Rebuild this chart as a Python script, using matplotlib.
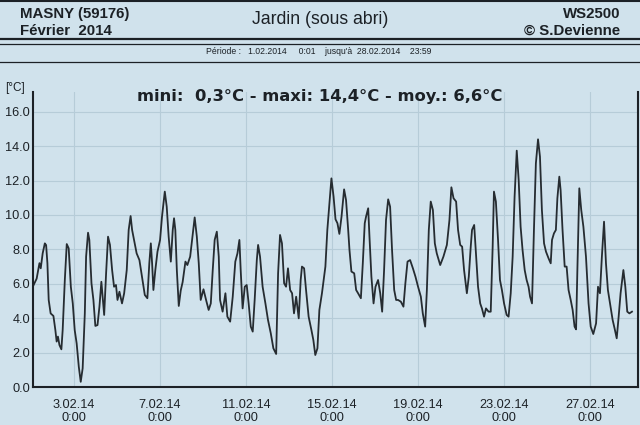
import matplotlib
matplotlib.use("Agg")
import matplotlib.pyplot as plt
from matplotlib.lines import Line2D

# ---- data ----
days = [1.08, 1.26, 1.39, 1.45, 1.54, 1.64, 1.70, 1.76, 1.82, 1.91, 2.04, 2.13, 2.19, 2.25, 2.32, 2.41,
        2.47, 2.57, 2.66, 2.75, 2.85, 2.94, 3.03, 3.12, 3.22, 3.31, 3.40, 3.50, 3.56, 3.65, 3.71,
        3.81, 3.90, 3.99, 4.09, 4.18, 4.27, 4.33, 4.40, 4.49, 4.58, 4.67, 4.77, 4.86, 4.95, 5.02,
        5.11, 5.23, 5.33, 5.45, 5.54, 5.63, 5.70, 5.79, 5.91, 6.04, 6.16, 6.29, 6.41, 6.50, 6.57,
        6.63, 6.69, 6.78, 6.88, 7.00, 7.09, 7.22, 7.31, 7.40, 7.50, 7.59, 7.65, 7.71, 7.78, 7.87,
        7.96, 8.05, 8.18, 8.27, 8.40, 8.49, 8.61, 8.71, 8.80, 8.89, 9.02, 9.14, 9.26, 9.36, 9.45,
        9.54, 9.64, 9.73, 9.79, 9.91, 10.04, 10.13, 10.26, 10.38, 10.50, 10.60, 10.69, 10.75, 10.84,
        10.94, 11.03, 11.12, 11.22, 11.31, 11.40, 11.50, 11.56, 11.65, 11.77, 11.90, 12.02, 12.15,
        12.27, 12.40, 12.49, 12.58, 12.67, 12.77, 12.86, 12.95, 13.05, 13.14, 13.23, 13.33, 13.45,
        13.54, 13.60, 13.70, 13.79, 13.91, 14.04, 14.13, 14.22, 14.32, 14.41, 14.53, 14.69, 14.78,
        14.88, 14.97, 15.07, 15.16, 15.25, 15.34, 15.44, 15.56, 15.65, 15.75, 15.81, 15.90, 16.03,
        16.12, 16.21, 16.34, 16.43, 16.52, 16.58, 16.68, 16.74, 16.83, 16.93, 17.02, 17.14, 17.24,
        17.33, 17.42, 17.51, 17.61, 17.70, 17.79, 17.89, 17.98, 18.07, 18.20, 18.32, 18.41, 18.51,
        18.63, 18.76, 18.88, 19.00, 19.13, 19.22, 19.33, 19.41, 19.50, 19.59, 19.69, 19.78, 19.87,
        20.03, 20.18, 20.34, 20.46, 20.55, 20.65, 20.77, 20.86, 20.96, 21.05, 21.14, 21.27, 21.36,
        21.45, 21.51, 21.61, 21.70, 21.79, 21.89, 21.97, 22.07, 22.16, 22.28, 22.38, 22.47, 22.53,
        22.62, 22.72, 22.81, 22.90, 23.00, 23.12, 23.21, 23.31, 23.40, 23.49, 23.59, 23.68, 23.77,
        23.86, 23.96, 24.05, 24.14, 24.21, 24.30, 24.39, 24.48, 24.58, 24.67, 24.76, 24.86, 24.95,
        25.07, 25.17, 25.23, 25.32, 25.41, 25.48, 25.57, 25.63, 25.72, 25.82, 25.91, 26.00, 26.10,
        26.19, 26.28, 26.35, 26.41, 26.50, 26.59, 26.69, 26.81, 26.93, 27.03, 27.15, 27.28, 27.37,
        27.46, 27.55, 27.65, 27.74, 27.83, 27.93, 28.05, 28.14, 28.24, 28.33, 28.42, 28.55, 28.64,
        28.73, 28.83, 28.95]
temps = [5.83, 6.3, 7.2, 6.9, 7.77, 8.35, 8.25, 7.2, 5.06, 4.28, 4.13, 3.31, 2.64, 2.93, 2.44, 2.19,
         3.31, 6.22, 8.31, 8.06, 5.83, 4.86, 3.31, 2.54, 1.18, 0.3, 1.09, 4.28, 7.58, 8.97, 8.55,
         6.03, 5.06, 3.55, 3.6, 4.67, 6.12, 5.25, 4.19, 6.61, 8.74, 8.26, 6.8, 5.83, 5.93, 5.06,
         5.54, 4.86, 5.45, 6.8, 9.13, 9.94, 9.13, 8.55, 7.77, 7.38, 6.41, 5.35, 5.16, 7.19, 8.35,
         7.19, 5.64, 6.8, 7.87, 8.55, 9.9, 11.36, 10.48, 8.74, 7.29, 9.13, 9.81, 9.13, 6.8, 4.71,
         5.6, 6.1, 7.29, 7.09, 7.58, 8.55, 9.86, 8.74, 7.19, 5.06, 5.68, 5.06, 4.48, 4.86, 6.8,
         8.55, 9.03, 7.58, 5.06, 4.38, 5.45, 4.09, 3.8, 5.25, 7.29, 7.77, 8.55, 6.8, 4.57,
         5.83, 5.93, 4.86, 3.51, 3.22, 5.06, 7.38, 8.26, 7.58, 5.83, 4.86, 3.9, 3.12,
         2.25, 1.92, 6.61, 8.84, 8.35, 6.03, 5.83, 6.9, 5.64, 5.45, 4.28, 5.25, 3.99,
         6.22, 7.0, 6.9, 5.64, 4.09, 3.31, 2.73, 1.86, 2.25, 4.48, 5.45, 7.0, 9.13,
         10.68, 12.13, 11.07, 9.75, 9.52, 8.9, 9.9, 11.49, 10.87, 9.13, 7.97, 6.71, 6.61,
         5.64, 5.45, 5.16, 7.19, 9.52, 9.9, 10.39, 8.74, 6.41, 4.86, 5.83, 6.22, 5.45,
         4.38, 6.8, 9.71, 10.91, 10.48, 7.97, 5.64, 5.06, 5.06, 4.96, 4.67, 6.03, 7.29,
         7.38, 6.9, 6.41, 5.83, 5.25, 4.28, 3.51, 5.64, 9.13, 10.78, 10.29, 8.35, 7.77,
         7.09, 7.58, 8.26, 9.71, 11.61, 10.97, 10.78, 9.13, 8.26, 8.16, 6.8, 5.45, 6.41,
         8.16, 9.13, 9.42, 7.58, 5.83, 4.86, 4.57, 4.09, 4.57, 4.38, 4.38, 8.16, 11.36,
         10.78, 8.55, 6.22, 5.64, 4.86, 4.19, 4.09, 5.45, 7.58, 11.07, 13.74, 12.03, 9.32,
         7.97, 6.8, 6.22, 5.83, 5.25, 4.86, 9.13, 13.0, 14.4, 13.39, 10.29, 8.35, 7.87,
         7.48, 7.19, 8.55, 8.93, 9.13, 10.97, 12.23, 11.45, 9.13, 7.0, 7.0, 5.64, 5.06,
         4.48, 3.51, 3.35, 6.8, 11.55, 10.29, 9.32, 7.58, 4.86, 3.51, 3.08, 3.7, 5.83,
         5.45, 7.58, 9.61, 7.19, 5.64, 4.86, 3.9, 3.41, 2.83, 4.09, 5.45, 6.8, 5.83,
         4.38, 4.28, 4.38]

xtick_days = [3, 7, 11, 15, 19, 23, 27]
xtick_labels = ["3.02.14\n0:00", "7.02.14\n0:00", "11.02.14\n0:00", "15.02.14\n0:00",
                "19.02.14\n0:00", "23.02.14\n0:00", "27.02.14\n0:00"]
ytick_values = [0, 2, 4, 6, 8, 10, 12, 14, 16]
ytick_labels = ["0.0", "2.0", "4.0", "6.0", "8.0", "10.0", "12.0", "14.0", "16.0"]

BG = "#d0e2ec"
INK = "#1c2126"
GRID = "#b6ccd8"
W, H = 640, 425

fig = plt.figure(figsize=(6.4, 4.25), dpi=100, facecolor=BG)

# header lines
def hline(ypix, lw, color=INK):
    y = 1 - ypix / H
    fig.add_artist(Line2D([0, 1], [y, y], transform=fig.transFigure, color=color, lw=lw))

hline(0.5, 1.5)
hline(39, 1.6)
hline(43.5, 0.9)
hline(62, 0.9)

bold = dict(family=["Liberation Sans", "DejaVu Sans"], weight="bold", color=INK)
bold_wide = dict(family=["DejaVu Sans"], weight="bold", color=INK)
reg = dict(family=["Liberation Sans", "DejaVu Sans"], color=INK)

fig.text(20 / W, 1 - 14 / H, "MASNY (59176)", fontsize=10.8, va="center", ha="left", **bold)
fig.text(20 / W, 1 - 31 / H, "Février  2014", fontsize=10.8, va="center", ha="left", **bold)
fig.text(620 / W, 1 - 14 / H, "WS2500", fontsize=10.8, va="center", ha="right", **bold)
fig.text(620 / W, 1 - 31 / H, "© S.Devienne", fontsize=10.8, va="center", ha="right", **bold)
fig.text(320 / W, 1 - 20 / H, "Jardin (sous abri)", fontsize=12.7, va="center", ha="center", **reg)
fig.text(319 / W, 1 - 51 / H,
         "Période :   1.02.2014     0:01    jusqu'à  28.02.2014    23:59",
         fontsize=6.2, va="center", ha="center", **reg)
fig.text(320 / W, 1 - 97 / H, "mini:  0,3°C - maxi: 14,4°C - moy.: 6,6°C",
         fontsize=11.8, va="center", ha="center", **bold_wide)
fig.text(5 / W, 1 - 88 / H, "[°C]", fontsize=8.5, va="center", ha="left", **reg)

ax = fig.add_axes([33 / W, 1 - 387 / H, 605 / W, 295 / H])
ax.set_facecolor(BG)
ax.plot(days, temps, color="#262c31", lw=1.3, solid_joinstyle="round")
ax.set_xlim(1.09, 29.23)
ax.set_ylim(0, 17.15)

ax.set_xticks(xtick_days)
ax.set_xticklabels(xtick_labels, fontsize=9.2, family=["Liberation Sans", "DejaVu Sans"],
                   color=INK, linespacing=1.15)
ax.set_yticks(ytick_values)
ax.set_yticklabels(ytick_labels, fontsize=9.2, family=["Liberation Sans", "DejaVu Sans"], color=INK)
ax.tick_params(axis="both", length=0)
ax.tick_params(axis="x", pad=8.5)
ax.tick_params(axis="y", pad=2)

ax.grid(True, color=GRID, lw=0.8)
ax.set_axisbelow(True)
for side in ["left", "bottom", "right"]:
    ax.spines[side].set_color(INK)
    ax.spines[side].set_linewidth(1.5)
ax.spines["top"].set_visible(False)

fig.savefig("out.png", dpi=100, facecolor=BG)
